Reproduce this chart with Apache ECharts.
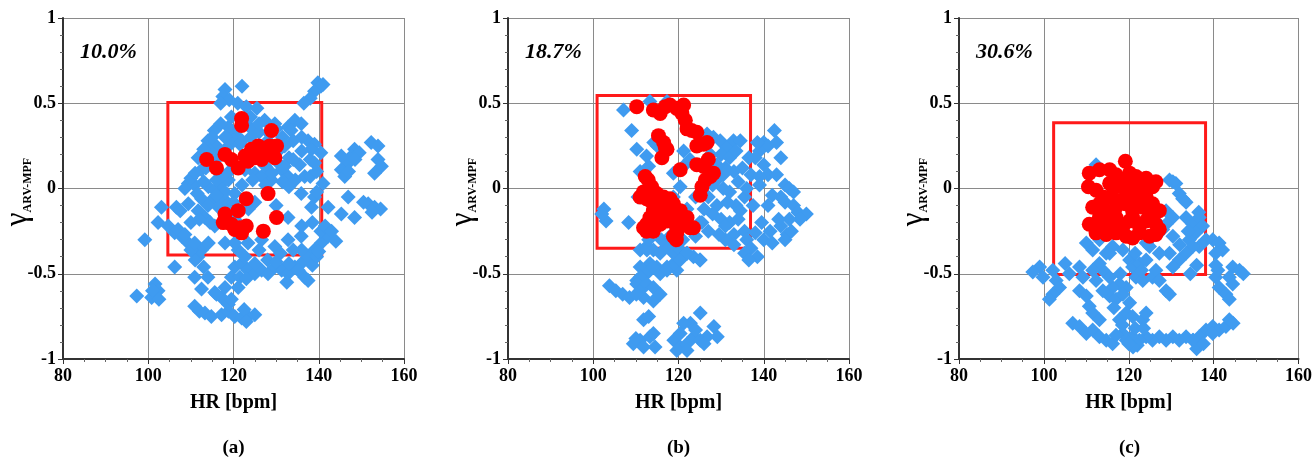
<!DOCTYPE html>
<html>
<head>
<meta charset="utf-8">
<script src="https://cdn.jsdelivr.net/npm/echarts@6/dist/echarts.min.js"></script>
<style>html,body{margin:0;padding:0;background:#fff}#c{width:1315px;height:457px}</style>
</head>
<body>
<div id="c"></div>
<script>
// ---- data ----
const xTicks = [80, 100, 120, 140, 160];
const yTicks = [-1, -0.5, 0, 0.5, 1];
const panelLabels = ['(a)', '(b)', '(c)'];
const percentLabels = ['10.0%', '18.7%', '30.6%'];
// rectangles: [xMin, yMin, xMax, yMax]
const boxA = [104.6, -0.39, 140.7, 0.505];
const boxB = [100.9, -0.35, 136.9, 0.545];
const boxC = [102.3, -0.505, 138.1, 0.385];

const blueA = [
[139.8,0.62],[141,0.61],[140.5,0.6],[139,0.57],[138,0.53],[136.5,0.5],
[122,0.6],[118,0.58],[117.5,0.54],[119,0.52],[117,0.5],[125.5,0.47],[121,0.5],[123,0.48],
[114,0.28],[115.5,0.34],[118.8,0.36],[120.3,0.32],[122.7,0.38],[124.2,0.35],[127.3,0.4],[129.7,0.38],[132.8,0.36],[134.4,0.4],[135.9,0.38],[133.5,0.34],[131.5,0.3],[137.5,0.28],[139,0.26],[138.3,0.23],[136,0.3],[134,0.28],[132,0.25],[130.5,0.22],[128,0.28],
[111.7,0.18],[112.5,0.11],[109.4,0.03],[108.6,0],[110.9,0.02],[114.1,0.01],[115.6,-0.01],[117.2,0.03],[118.8,0.05],[117.2,-0.05],[114.8,-0.07],[118.8,-0.09],[120.3,-0.03],[116,0.05],[119,0.1],[120,0.14],[117.5,0.08],[113,0.04],[111.5,-0.03],[112.5,-0.06],[116.5,-0.11],[119.5,-0.16],[121,-0.2],
[122.7,0.11],[125,0.09],[126.6,0.07],[128.9,0.05],[131.3,0.11],[132.8,0.07],[136.7,0.07],[130.5,0.15],[133,0.18],[135.5,0.14],[138,0.17],[140.5,0.21],[127.5,0.13],
[135.9,-0.03],[139,-0.05],[138.3,-0.11],[132.8,-0.17],[139.5,-0.02],[125,-0.08],[123.5,-0.12],[130,-0.1],
[142.2,-0.11],[145.3,-0.15],[148.4,-0.17],[151.6,-0.09],[153.1,-0.11],[154.5,-0.12],[152.5,-0.14],[146.9,-0.05],[150.5,-0.08],
[152.3,0.27],[153.9,0.25],[148.4,0.23],[147.7,0.19],[146.9,0.15],[145.3,0.11],[146.1,0.07],[153.9,0.17],[154.7,0.13],[153.1,0.09],[145.3,0.19],[149.5,0.21],[148.5,0.17],[147,0.1],
[103.1,-0.11],[102.3,-0.2],[104.7,-0.22],[106.6,-0.11],[106.2,-0.26],[107.5,-0.13],
[99.2,-0.3],[107.8,-0.28],[109.4,-0.32],[111.7,-0.4],[112.5,-0.36],[106.2,-0.46],[110.9,-0.52],[112.5,-0.59],[115.6,-0.61],[111,-0.42],[110,-0.36],
[101.6,-0.56],[102.3,-0.6],[100.8,-0.64],[97.3,-0.63],[102.5,-0.65],[101,-0.6],
[110.9,-0.69],[112,-0.72],[113.3,-0.73],[114.8,-0.75],[117.2,-0.74],[118.8,-0.72],[120.3,-0.75],[121.9,-0.76],[123.4,-0.75],[125,-0.74],[117.2,-0.64],[118.8,-0.68],[119.5,-0.65],[122.5,-0.71],[123,-0.78],[116,-0.62],
[120.3,-0.46],[121.9,-0.44],[123.4,-0.48],[125,-0.5],[126.6,-0.48],[128.1,-0.5],[129.7,-0.46],[131.3,-0.48],[132.8,-0.5],[134.4,-0.46],[135.9,-0.44],[137.5,-0.4],[139,-0.36],[140.6,-0.32],[142.2,-0.28],[136.7,-0.52],[135.2,-0.48],[132.5,-0.55],[137.5,-0.54],[138.5,-0.45],[139.5,-0.4],
[121.1,-0.36],[122.7,-0.4],[119.5,-0.52],[121.1,-0.58],[121.5,-0.52],
[123.4,-0.32],[126.6,-0.3],[129.7,-0.34],[132.8,-0.3],[135.9,-0.28],[134,-0.36],[131,-0.38],
[107,-0.24],[108.6,-0.27],[110.9,-0.32],[114.1,-0.32],[115.6,-0.22],[118,-0.32],[120.3,-0.32],
[111.7,-0.13],[109.4,-0.09],[113.3,-0.17],[114.5,-0.2],
[110,0.06],[111,0.09],[113.5,0.12],[115.5,0.16],[117,0.2],[118.5,0.24],[120,0.28],[121.5,0.26],[118,0.3],[116,0.25],[114.5,0.22],[113,0.23],
[129,0.09],[127.5,0.02],[131.5,0.04],[133,0.01],[134.5,0.05],[132,0.13],[129.5,0.18],[131.5,0.25],[128.5,0.32],[126,0.33],[130,0.35],
[138,0.07],[139.5,0.1],[138.5,-0.2],[136,-0.22],[140.5,-0.25],[141.5,-0.22],[143,-0.25],
[115,0.3],[117,0.38],[119.5,0.42],[124,0.42],[126,0.38],[122,0.28],[124,0.3],[124.5,0.05],[122,0.02],[120,-0.08],[118,-0.02],[116,-0.04],[114,-0.1],
[112,-0.18],[110,-0.2],[126,-0.36],[128,-0.42],[125,-0.44],[123,-0.53],[118,-0.58],[114,-0.52],[113,-0.46],[130,-0.43],[133,-0.44],[136,-0.36],[140,-0.37],
[139,0.15],[136,0.22],[134,0.17],[141,0.03],[144,-0.31]
];
const redA = [
[121.9,0.41],[121.9,0.37],[128.9,0.34],[130.1,0.25],[129.7,0.18],
[113.7,0.17],[116,0.12],[118,0.2],[119.5,0.17],[121.1,0.12],
[122.7,0.19],[124.2,0.23],[125.8,0.25],[127.3,0.21],[126.6,0.17],[128.1,0.2],[128.5,0.25],[125,0.18],[123.4,0.16],
[128.1,-0.03],[123,-0.06],
[121.1,-0.13],[118,-0.15],[117.6,-0.2],[119.5,-0.21],[121.5,-0.23],[123,-0.22],[121.9,-0.26],[120.3,-0.24],
[130.1,-0.17],[127,-0.25]
];

const blueB = [
[107.1,0.46],[113.3,0.51],[117.3,0.51],[109,0.34],[110.2,0.23],[112.5,0.19],[111,0.1],[113,0.13],[115,0.25],[114.2,0.27],
[110.5,-0.05],[112,-0.02],[102.5,-0.12],[103,-0.19],[102,-0.15],[108.3,-0.2],
[118.8,0.09],[121.2,0.13],[122.7,0.17],[121.2,0.22],[120.4,0.01],[118.8,-0.05],[125.5,-0.2],[125,-0.42],
[126.7,0.32],[128.2,0.3],[129.8,0.28],[131.4,0.24],[132.9,0.28],[134.5,0.28],[130,0.2],[132,0.18],[133.5,0.22],[135,0.12],[133,0.1],[131,0.12],
[129,0.05],[130.5,0],[132,-0.02],[134,0.04],[135.5,-0.05],[133.5,-0.1],[131.5,-0.08],[129,-0.1],[128,-0.15],[130,-0.18],[132,-0.2],[134,-0.18],
[135.5,-0.25],[133,-0.27],[131,-0.3],[136,-0.3],[128,0.02],[127,-0.05],[126,-0.12],[125,-0.2],[127,-0.25],[124,-0.28],[136.5,0.18],[137,0.08],[136,0],[137.5,-0.1],
[140,0.27],[141,0.25],[142.5,0.34],[143,0.27],[139,0.22],[138,0.18],[140,0.14],[141,0.08],[139,0.07],[143,0.08],[145,0.02],[146,0],[147,-0.02],
[144,-0.05],[145,-0.08],[147,-0.1],[148,-0.14],[150,-0.15],[148.5,-0.18],[146,-0.18],[144,-0.22],[141.5,-0.25],[140,-0.3],[142,-0.32],[145,-0.3],[145.5,-0.27],
[138,-0.26],[137,-0.35],[138.5,-0.4],[135.5,-0.38],[136.5,-0.42],[143.5,-0.18],[139.5,-0.2],
[111,-0.36],[112.5,-0.34],[114.1,-0.36],[115.7,-0.38],[117.3,-0.34],[118.8,-0.38],[120.4,-0.36],[122,-0.38],[123.5,-0.4],[113.3,-0.44],[114.9,-0.46],[117.3,-0.46],[119.6,-0.48],
[111,-0.46],[112.5,-0.5],[110.2,-0.54],[112.6,-0.36],[114.1,-0.46],[115.7,-0.5],[117.3,-0.48],[118.9,-0.44],[120.4,-0.42],[122,-0.38],[125.1,-0.42],
[111,-0.52],[110.2,-0.56],[111,-0.6],[111.8,-0.64],[112.6,-0.56],[114.1,-0.58],[103.8,-0.57],[105.3,-0.6],[106.9,-0.62],[108.5,-0.64],[110.1,-0.62],[114.1,-0.66],[115.7,-0.62],
[111.8,-0.77],[113,-0.75],[111,-0.89],[109.4,-0.91],[111.8,-0.93],[113.3,-0.87],[114.1,-0.85],[118.9,-0.89],[120.4,-0.93],[122,-0.91],[123.6,-0.87],[122.8,-0.79],[125.1,-0.73],
[121.2,-0.79],[120.4,-0.85],[125.1,-0.89],[126.7,-0.87],[128.3,-0.81],[129.1,-0.87],[119.6,-0.95],[122,-0.95],[114.5,-0.93],[110,-0.88],[124,-0.83],[126,-0.91],
[116,-0.3],[118,-0.28],[121,-0.3],[113,-0.3],[119,-0.22],[117,-0.15],[122,-0.12],[124,-0.05],
[127.5,0.2],[129,0.14],[130.5,0.08],[134.5,-0.13],[131,-0.22],[129.5,-0.27],[133,-0.33],[139,0.02],[141,-0.1],[142,-0.04],[146.5,-0.25],[144,0.18],[138.5,0.27]
];
const redB = [
[110.2,0.48],[114.1,0.46],[115.7,0.44],[116.9,0.48],[118,0.49],[119.6,0.47],[121.2,0.49],[120.8,0.44],[121.6,0.4],[122,0.35],[123.1,0.34],[124.3,0.33],
[115.3,0.31],[116.5,0.27],[116.9,0.24],[116.1,0.18],[117.3,0.23],
[124.3,0.25],[125.9,0.26],[126.7,0.27],[120.4,0.11],
[124.3,0.14],[125.9,0.13],[127,0.17],[128.2,0.09],[127.5,0.07],[126.3,0.05],[125.5,0.01],[125.1,-0.04],
[112.2,0.07],[112.9,0.05],[113.7,0.01],[111.8,-0.02],[111,-0.05],[112.5,-0.06],[114.9,-0.03],[116.5,-0.05],[118,-0.06],[118.8,-0.09],[120.4,-0.13],[122,-0.17],
[121.2,-0.19],[122.7,-0.23],[119.6,-0.23],[119.6,-0.26],[118.8,-0.28],[117.3,-0.19],[115.7,-0.15],[114.1,-0.13],[113.3,-0.17],[112.5,-0.21],[111.8,-0.23],
[114.1,-0.25],[115.7,-0.21],[114.9,-0.09],[113.3,-0.07],[116.5,-0.11],[118.4,-0.15],[120.4,-0.19],[112.5,-0.25],[119.5,-0.3],[123.5,-0.23]
];

const blueC = [
[112.3,0.14],[129.6,0.05],[131.1,0.03],[131.9,-0.03],[132.7,-0.06],[133.5,-0.08],[130.4,0.04],
[128.8,-0.13],[130.4,-0.17],[128.8,-0.21],[133.5,-0.17],[135.1,-0.21],[136.6,-0.17],[137.4,-0.22],[135.8,-0.26],[134.3,-0.3],[136.6,-0.34],[138.2,-0.3],
[139.8,-0.3],[141.3,-0.32],[142.1,-0.36],[140.5,-0.38],[135.1,-0.34],[133.5,-0.38],[131.9,-0.42],[130.4,-0.46],[129.6,-0.38],[127.2,-0.38],[124.9,-0.34],
[126.4,-0.19],[128,-0.24],[130.4,-0.28],[125.6,-0.28],[124.1,-0.32],[136,-0.45],[134.5,-0.5],[136.5,-0.14],
[144.5,-0.46],[146.1,-0.48],[147,-0.5],[143.7,-0.52],[140.5,-0.52],[141.3,-0.58],[142.9,-0.62],[143.7,-0.65],[144.5,-0.56],[141,-0.48],[140.5,-0.45],
[138.2,-0.83],[139.8,-0.81],[141.3,-0.83],[142.9,-0.81],[143.7,-0.77],[144.6,-0.79],[139.8,-0.85],[136.6,-0.87],[135.1,-0.89],[133.5,-0.87],[131.9,-0.89],[130.4,-0.87],
[128.8,-0.89],[127.2,-0.87],[125.6,-0.89],[124.1,-0.87],[122.5,-0.89],[120.9,-0.87],[119.4,-0.89],[118.6,-0.85],[136,-0.94],[135.2,-0.89],[137.6,-0.91],[122,-0.92],[121,-0.93],
[120.2,-0.42],[120.9,-0.46],[122.5,-0.44],[124.1,-0.42],[121.7,-0.52],[123.3,-0.54],[125.6,-0.52],[126.4,-0.48],[127.2,-0.54],[128.8,-0.6],[129.6,-0.62],
[119.4,-0.58],[117.8,-0.56],[116.2,-0.58],[115.5,-0.63],[117,-0.65],[118.6,-0.62],[120.2,-0.67],[119.4,-0.73],[117.8,-0.77],[120.9,-0.75],[123.3,-0.77],[124.1,-0.73],
[115.5,-0.52],[113.9,-0.48],[113.1,-0.44],[114.7,-0.38],[116.2,-0.34],[118.6,-0.36],
[99,-0.46],[97.4,-0.49],[99.8,-0.52],[102.1,-0.48],[102.9,-0.54],[103.7,-0.58],[102.1,-0.62],[101.3,-0.65],[108.4,-0.46],[109.2,-0.52],[108.4,-0.6],[110,-0.63],[110.7,-0.69],
[111.5,-0.48],[112.3,-0.54],[113.9,-0.6],
[106.8,-0.79],[108.4,-0.81],[110,-0.85],[111.5,-0.83],[113.1,-0.87],[114.7,-0.89],[116.2,-0.91],[111.5,-0.73],[113.1,-0.77],
[110,-0.32],[113.1,-0.3],[115.5,-0.38],[111.5,-0.36],[106,-0.5],[105,-0.44],
[121.5,-0.38],[123,-0.48],[118,-0.5],[116.5,-0.7],[118.5,-0.8],[121.5,-0.82],[123.5,-0.82],[120,-0.91],[117,-0.86],[134,-0.25],[132,-0.33]
];
const redC = [
[119.2,0.16],
[110.7,0.09],[113.1,0.11],[115.5,0.11],[117,0.08],[120.2,0.09],[121.7,0.07],[124.1,0.06],[126.4,0.04],
[110.5,0.01],[112.3,-0.01],[117,0.01],[119.4,-0.01],[121.7,0.01],[123.3,-0.01],[125.6,0.01],
[111.5,-0.11],[113.1,-0.09],[114.7,-0.13],[117,-0.11],[119.4,-0.09],[120.9,-0.13],[123.3,-0.11],[125.6,-0.09],[127.2,-0.13],
[110.7,-0.21],[112.3,-0.22],[114.7,-0.21],[116.2,-0.19],[118.6,-0.22],[120.2,-0.19],[122.5,-0.22],[124.1,-0.19],[126.4,-0.21],[127.2,-0.24],
[112.3,-0.26],[114.7,-0.27],[117,-0.26],[119.4,-0.28],[120.9,-0.29],[122.5,-0.26],[124.9,-0.28],[126.4,-0.27],
[115.5,-0.05],[117.8,-0.07],[120.9,-0.05],[122.5,-0.07],[124.1,-0.05],[117,-0.17],[120.9,-0.17],[124.9,-0.15],[113.1,-0.17],[113.9,-0.05],[115.5,0.03],[118.6,0.05],[120.9,0.04]
];

// ---- chart ----
const blueData = [blueA, blueB, blueC];
const redData = [redA, redB, redC];
const boxes = [boxA, boxB, boxC];
const gridLefts = [63, 508, 959];
const gridW = 341, gridTop = 18, gridH = 341;
const serif = 'Liberation Serif';

const chart = echarts.init(document.getElementById('c'), null, {renderer: 'canvas'});
const grids = [], xAxes = [], yAxes = [], series = [], graphics = [];
for (let i = 0; i < 3; i++) {
  grids.push({left: gridLefts[i], top: gridTop, width: gridW, height: gridH, containLabel: false});
  xAxes.push({
    type: 'value', gridIndex: i, min: xTicks[0], max: xTicks[xTicks.length - 1], interval: xTicks[1] - xTicks[0],
    name: 'HR [bpm]', nameLocation: 'middle', nameGap: 34,
    nameTextStyle: {fontFamily: serif, fontWeight: 'bold', fontSize: 20, color: '#000'},
    axisLine: {show: true, onZero: false, lineStyle: {color: '#333', width: 2}},
    axisTick: {show: true, length: 5, lineStyle: {color: '#333'}},
    minorTick: {show: true, splitNumber: 4, length: 3, lineStyle: {color: '#666'}},
    axisLabel: {fontFamily: serif, fontWeight: 'bold', fontSize: 18, color: '#000', margin: 8},
    splitLine: {show: true, lineStyle: {color: '#8a8a8a', width: 1}}
  });
  yAxes.push({
    type: 'value', gridIndex: i, min: yTicks[0], max: yTicks[yTicks.length - 1], interval: yTicks[1] - yTicks[0],
    axisLine: {show: true, onZero: false, lineStyle: {color: '#333', width: 2}},
    axisTick: {show: true, length: 5, lineStyle: {color: '#333'}},
    minorTick: {show: true, splitNumber: 5, length: 3, lineStyle: {color: '#666'}},
    axisLabel: {fontFamily: serif, fontWeight: 'bold', fontSize: 18, color: '#000', margin: 7},
    splitLine: {show: true, lineStyle: {color: '#8a8a8a', width: 1}}
  });
  series.push({
    type: 'scatter', xAxisIndex: i, yAxisIndex: i, data: blueData[i], symbol: 'diamond', symbolSize: 15,
    itemStyle: {color: '#3f9bf0', opacity: 1}, z: 2, silent: true
  });
  const b = boxes[i];
  series.push({
    type: 'scatter', xAxisIndex: i, yAxisIndex: i, data: redData[i], symbol: 'circle', symbolSize: 15,
    itemStyle: {color: '#ff0000', opacity: 1}, z: 4, silent: true,
    markArea: {silent: true, itemStyle: {color: 'rgba(0,0,0,0)', borderColor: '#ff1a1a', borderWidth: 3},
      data: [[{coord: [b[0], b[3]]}, {coord: [b[2], b[1]]}]]}
  });
  graphics.push({
    type: 'text', left: gridLefts[i] + 17, top: 41,
    style: {text: percentLabels[i], font: 'italic bold 22px "Liberation Serif"', fill: '#000'}
  });
  graphics.push({
    type: 'text', x: gridLefts[i] + gridW / 2, y: 448,
    style: {text: panelLabels[i], font: 'bold 19px "Liberation Serif"', fill: '#000', align: 'center', verticalAlign: 'middle'}
  });
  graphics.push({
    type: 'text', x: gridLefts[i] - 45, y: 192, rotation: Math.PI / 2,
    style: {
      text: '{g|γ}{s|ARV-MPF}', align: 'center', verticalAlign: 'middle',
      rich: {
        g: {fontFamily: serif, fontSize: 31, fill: '#000', color: '#000'},
        s: {fontFamily: serif, fontSize: 12, fontWeight: 'bold', fill: '#000', color: '#000', verticalAlign: 'bottom', padding: [8, 0, 0, 0]}
      }
    }
  });
}
chart.setOption({
  animation: false,
  backgroundColor: '#fff',
  grid: grids, xAxis: xAxes, yAxis: yAxes, series: series, graphic: graphics
});
</script>
</body>
</html>
